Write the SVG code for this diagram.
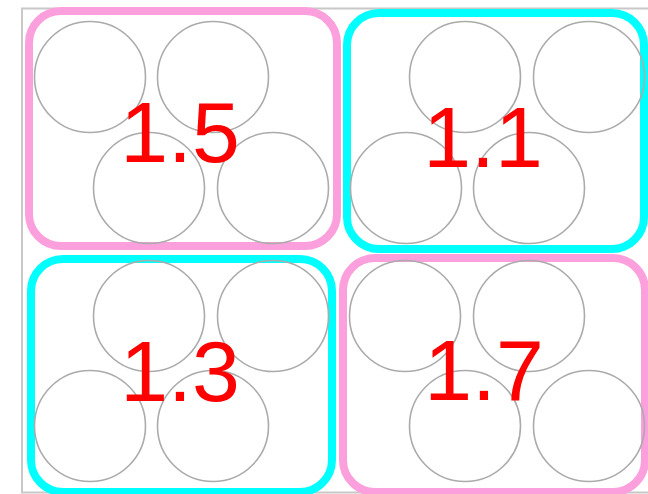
<svg xmlns="http://www.w3.org/2000/svg" width="648" height="494" viewBox="0 0 648 494">
<style>
.frame{fill:none;stroke:#c8c8c8;stroke-width:2}
.box{fill:none;stroke-width:8}
.pink{stroke:#fba0dc}
.cyan{stroke:#00ffff}
.c{fill:none;stroke:#ababab;stroke-width:1.6}
.lbl{font-family:"Liberation Sans",Arial,sans-serif;font-size:86px;fill:#ff0000;text-anchor:middle}
</style>
<rect class="frame" x="22" y="8.5" width="640" height="484"/>
<g id="node-1-5">
<rect class="box pink" x="29" y="11" width="308" height="235" rx="32"/>
<circle class="c" cx="90" cy="77" r="55.5"/>
<circle class="c" cx="213" cy="77" r="55.5"/>
<circle class="c" cx="149" cy="188" r="55.5"/>
<circle class="c" cx="273" cy="188" r="55.5"/>
<text class="lbl" x="180" y="162">1.5</text>
</g>
<g id="node-1-1">
<rect class="box cyan" x="347" y="13" width="297" height="236" rx="32"/>
<circle class="c" cx="465" cy="77" r="55.5"/>
<circle class="c" cx="589" cy="77" r="55.5"/>
<circle class="c" cx="406" cy="188" r="55.5"/>
<circle class="c" cx="529" cy="188" r="55.5"/>
<text class="lbl" x="483" y="167">1.1</text>
</g>
<g id="node-1-3">
<rect class="box cyan" x="31" y="259" width="301" height="233" rx="32"/>
<circle class="c" cx="149" cy="316" r="55.5"/>
<circle class="c" cx="273" cy="316" r="55.5"/>
<circle class="c" cx="90" cy="426" r="55.5"/>
<circle class="c" cx="213" cy="426" r="55.5"/>
<text class="lbl" x="180" y="401">1.3</text>
</g>
<g id="node-1-7">
<rect class="box pink" x="343" y="258" width="302" height="234" rx="32"/>
<circle class="c" cx="405" cy="316" r="55.5"/>
<circle class="c" cx="529" cy="316" r="55.5"/>
<circle class="c" cx="465" cy="426" r="55.5"/>
<circle class="c" cx="589" cy="426" r="55.5"/>
<text class="lbl" x="484" y="400">1.7</text>
</g>
<g id="connectors"/>
</svg>
